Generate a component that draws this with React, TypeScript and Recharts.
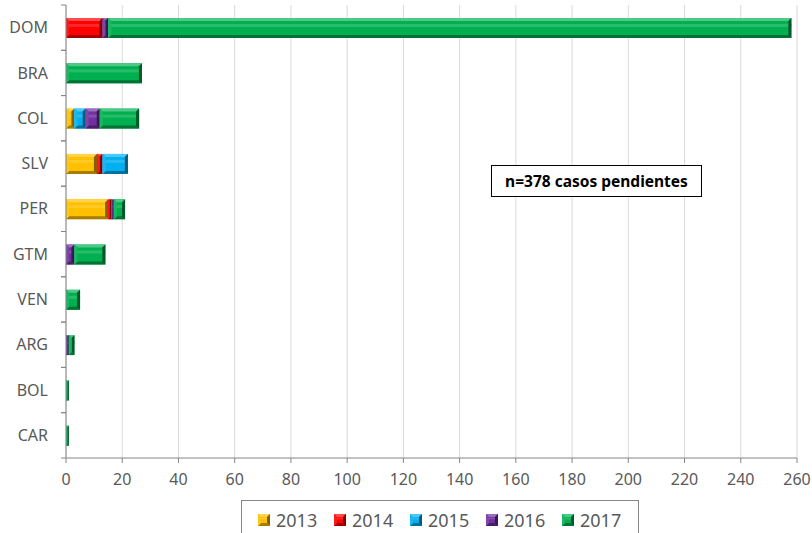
import React from 'react';
import { BarChart, Bar, XAxis, YAxis, CartesianGrid, Legend } from 'recharts';

const countries = ['DOM', 'BRA', 'COL', 'SLV', 'PER', 'GTM', 'VEN', 'ARG', 'BOL', 'CAR'];
const y2013 = [0, 0, 3, 11, 15, 0, 0, 0, 0, 0];
const y2014 = [13, 0, 0, 2, 1, 0, 0, 0, 0, 0];
const y2015 = [0, 0, 4, 9, 0, 0, 0, 0, 0, 0];
const y2016 = [2, 0, 5, 0, 1, 3, 0, 1, 0, 0];
const y2017 = [243, 27, 14, 0, 4, 11, 5, 2, 1, 1];
const xTicks = [0, 20, 40, 60, 80, 100, 120, 140, 160, 180, 200, 220, 240, 260];

const series = [
  { key: '2013', values: y2013, color: '#ffc000' },
  { key: '2014', values: y2014, color: '#ff0000' },
  { key: '2015', values: y2015, color: '#00b0f0' },
  { key: '2016', values: y2016, color: '#7030a0' },
  { key: '2017', values: y2017, color: '#00b050' },
];

const data = countries.map((name, i) => {
  const row: Record<string, string | number> = { name };
  series.forEach((s) => { row[s.key] = s.values[i]; });
  return row;
});

const W = 812;
const H = 533;
const margin = { top: 5, right: 15, left: 0, bottom: 40 };
const xAxisH = 35;
const bandHalf = (H - margin.top - margin.bottom - xAxisH) / countries.length / 2;
const font = '"Noto Sans", sans-serif';

// mix a hex colour toward black (amt<0) or white (amt>0)
function shade(hex: string, amt: number) {
  const n = parseInt(hex.slice(1), 16);
  const ch = [(n >> 16) & 255, (n >> 8) & 255, n & 255].map((c) =>
    Math.round(amt < 0 ? c * (1 + amt) : c + (255 - c) * amt)
  );
  return `rgb(${ch[0]},${ch[1]},${ch[2]})`;
}

function BevelBar(props: any) {
  const { x, y, width, height, fill } = props;
  if (!width || width <= 0) return null;
  const b = Math.min(3, width / 2);
  return (
    <g>
      <rect x={x} y={y} width={width} height={height} fill={fill} />
      <rect x={x} y={y + height * 0.3} width={width} height={height * 0.15} fill={shade(fill, 0.15)} />
      <polygon points={`${x},${y} ${x + width},${y} ${x + width - b},${y + b} ${x + b},${y + b}`} fill={shade(fill, 0.3)} />
      <polygon points={`${x},${y + height} ${x + width},${y + height} ${x + width - b},${y + height - b} ${x + b},${y + height - b}`} fill={shade(fill, -0.35)} />
      <polygon points={`${x + width},${y} ${x + width},${y + height} ${x + width - b},${y + height - b} ${x + width - b},${y + b}`} fill={shade(fill, -0.5)} />
      <polygon points={`${x},${y} ${x},${y + height} ${x + b},${y + height - b} ${x + b},${y + b}`} fill={shade(fill, 0.1)} />
    </g>
  );
}

function CountryTick(props: any) {
  const { x, y, payload } = props;
  const ax = margin.left + 66;
  return (
    <g>
      <line x1={ax - 5} x2={ax} y1={y - bandHalf} y2={y - bandHalf} stroke="#868686" />
      <line x1={ax - 5} x2={ax} y1={y + bandHalf} y2={y + bandHalf} stroke="#868686" />
      <text x={x - 10} y={y} dy="0.35em" textAnchor="end" fill="#595959" fontSize={16} fontFamily={font}>
        {payload.value}
      </text>
    </g>
  );
}

function LegendBox() {
  return (
    <div
      style={{
        border: '1px solid #868686',
        height: 40,
        boxSizing: 'border-box',
        display: 'flex',
        alignItems: 'center',
        paddingLeft: 16,
        fontFamily: font,
        fontSize: 18,
        color: '#595959',
        background: '#fff',
      }}
    >
      {series.map((s) => (
        <div key={s.key} style={{ display: 'flex', alignItems: 'center', width: 78 }}>
          <svg width={12} height={12} style={{ marginRight: 6 }}>
            <BevelBar x={0} y={0} width={12} height={12} fill={s.color} />
          </svg>
          <span>{s.key}</span>
        </div>
      ))}
    </div>
  );
}

export default function App() {
  return (
    <div style={{ position: 'absolute', left: 0, top: 0, width: W, height: H, background: '#fff' }}>
      <BarChart width={W} height={H} data={data} layout="vertical" margin={margin}>
        <CartesianGrid horizontal={false} stroke="#d9d9d9" />
        <XAxis
          type="number"
          domain={[0, 260]}
          ticks={xTicks}
          interval={0}
          height={xAxisH}
          stroke="#868686"
          tickSize={5}
          tickMargin={11}
          tick={{ fill: '#595959', fontSize: 16, fontFamily: font }}
        />
        <YAxis
          type="category"
          dataKey="name"
          width={66}
          stroke="#868686"
          tickLine={false}
          interval={0}
          tick={<CountryTick />}
        />
        {series.map((s) => (
          <Bar
            key={s.key}
            dataKey={s.key}
            stackId="a"
            fill={s.color}
            barSize={20}
            shape={<BevelBar />}
            isAnimationActive={false}
          />
        ))}
        <Legend
          layout="horizontal"
          verticalAlign="middle"
          align="center"
          wrapperStyle={{ left: 241, top: 500, width: 398 }}
          content={<LegendBox />}
        />
      </BarChart>
      <div
        style={{
          position: 'absolute',
          left: 491,
          top: 165,
          width: 211,
          height: 32,
          boxSizing: 'border-box',
          border: '1px solid #000',
          background: '#fff',
          display: 'flex',
          alignItems: 'center',
          justifyContent: 'center',
          fontFamily: font,
          fontWeight: 'bold',
          fontSize: 15.5,
          color: '#000',
        }}
      >
        n=378 casos pendientes
      </div>
    </div>
  );
}
